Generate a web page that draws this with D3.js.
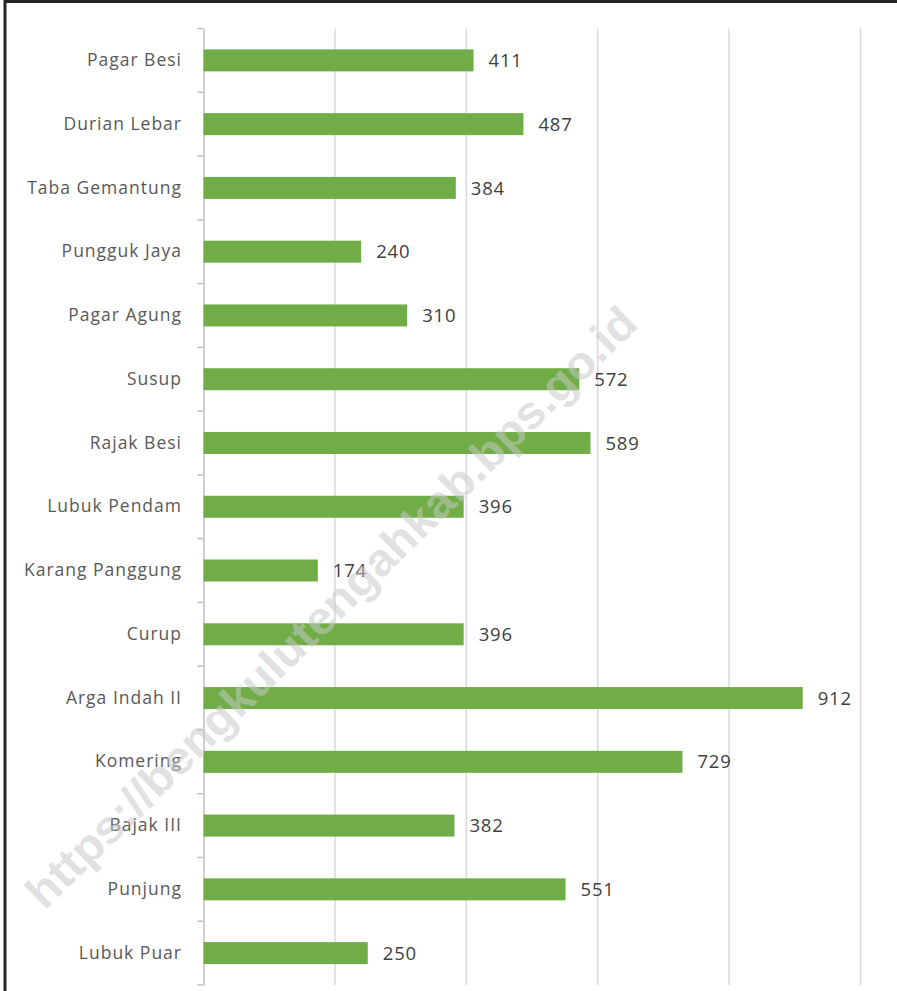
<!DOCTYPE html>
<html>
<head>
<meta charset="utf-8">
<script src="https://cdn.jsdelivr.net/npm/d3@7"></script>
<style>
  html, body { margin: 0; padding: 0; background: #fff; }
  svg { display: block; }
</style>
</head>
<body>
<svg width="897" height="991"></svg>
<script>
const categories = ["Pagar Besi", "Durian Lebar", "Taba Gemantung", "Pungguk Jaya", "Pagar Agung",
  "Susup", "Rajak Besi", "Lubuk Pendam", "Karang Panggung", "Curup",
  "Arga Indah II", "Komering", "Bajak III", "Punjung", "Lubuk Puar"];
const values = [411, 487, 384, 240, 310, 572, 589, 396, 174, 396, 912, 729, 382, 551, 250];
const gridTicks = [0, 200, 400, 600, 800, 1000];
const watermark = "https://bengkulutengahkab.bps.go.id";

const svg = d3.select("svg");
const width = +svg.attr("width");
const height = +svg.attr("height");

const data = categories.map((c, i) => ({ name: c, value: values[i] }));

const x = d3.scaleLinear().domain([0, 1000]).range([203.5, 860.5]);
const y = d3.scaleBand().domain(categories).range([28.5, 985]).padding(0);
const barH = y.bandwidth() * 0.345;

// frame (left + top only)
svg.append("path")
  .attr("d", `M5,${height} V1.5 H${width}`)
  .attr("fill", "none")
  .attr("stroke", "#262626")
  .attr("stroke-width", 3);

// gridlines
svg.append("g")
  .selectAll("line")
  .data(gridTicks.slice(1))
  .enter().append("line")
  .attr("x1", d => x(d)).attr("x2", d => x(d))
  .attr("y1", 28.5).attr("y2", 985)
  .attr("stroke", "#d9d9d9")
  .attr("stroke-width", 1.5);

// y axis
const yAxis = svg.append("g")
  .attr("transform", `translate(${x(0)},0)`)
  .call(d3.axisLeft(y).tickSize(0).tickPadding(21.5));
yAxis.select(".domain").attr("stroke", "#bfbfbf").attr("stroke-width", 1.5);
yAxis.selectAll("text")
  .attr("fill", "#595959")
  .style("font-family", "Open Sans")
  .style("font-size", "17.5px")
  .style("letter-spacing", "1px");

// boundary ticks between categories
const bounds = categories.map(c => y(c)).concat([y.range()[1]]);
svg.append("g")
  .selectAll("line")
  .data(bounds)
  .enter().append("line")
  .attr("x1", x(0) - 6).attr("x2", x(0))
  .attr("y1", d => d).attr("y2", d => d)
  .attr("stroke", "#bfbfbf")
  .attr("stroke-width", 1.5);

// bars
svg.append("g")
  .selectAll("rect")
  .data(data)
  .enter().append("rect")
  .attr("x", x(0))
  .attr("y", d => y(d.name) + (y.bandwidth() - barH) / 2)
  .attr("width", d => x(d.value) - x(0))
  .attr("height", barH)
  .attr("fill", "#70ad47");

// value labels
svg.append("g")
  .selectAll("text")
  .data(data)
  .enter().append("text")
  .attr("x", d => x(d.value) + 15)
  .attr("y", d => y(d.name) + y.bandwidth() / 2)
  .attr("dy", "0.36em")
  .attr("fill", "#404040")
  .style("font-family", "Open Sans")
  .style("font-size", "18.5px")
  .style("letter-spacing", "0.8px")
  .text(d => d.value);

// watermark
svg.append("text")
  .attr("transform", "translate(331,607) rotate(-44.5)")
  .attr("text-anchor", "middle")
  .attr("dominant-baseline", "central")
  .attr("textLength", 835)
  .attr("lengthAdjust", "spacingAndGlyphs")
  .attr("fill", "#c8c8c8")
  .attr("fill-opacity", 0.55)
  .style("font-family", "Liberation Sans")
  .style("font-weight", "bold")
  .style("font-size", "46px")
  .text(watermark);
</script>
</body>
</html>
